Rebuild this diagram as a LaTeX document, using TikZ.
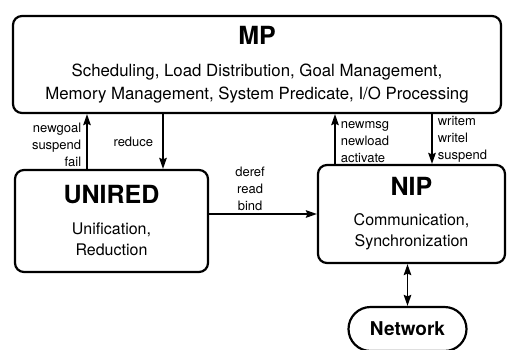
\documentclass[tikz,border=0pt]{standalone}
\usepackage{fontspec}
\setmainfont{TeX Gyre Heros}
\usetikzlibrary{shapes,arrows,arrows.meta,positioning,calc}

\newcommand{\unitname}[1]{{\fontsize{25}{30}\selectfont\bfseries #1}}

\begin{document}
\begin{tikzpicture}[x=1pt, y=-1pt, auto]
    % Define styles
    \tikzstyle{unit} = [rectangle, rounded corners=9pt, line width=2.2pt, draw=black, align=center, font=\fontsize{16}{21}\selectfont]
    \tikzstyle{port} = [rectangle, rounded corners=22pt, line width=2.2pt, draw=black, minimum width=118pt, minimum height=44pt, font=\fontsize{19}{22}\selectfont\bfseries]
    \tikzstyle{arrow} = [line width=1.7pt,->,>={Stealth[length=11pt,width=7.5pt,inset=1.5pt]}]
    \tikzstyle{tag} = [font=\fontsize{13}{17}\selectfont, inner sep=5pt]

    \useasboundingbox (0,0) rectangle (511,349);

    % Nodes
    \node [unit, minimum width=488pt, minimum height=97pt, font=\fontsize{16.8}{23}\selectfont] (mp) at (257,64.5) {\unitname{MP}\\[9pt] Scheduling, Load Distribution, Goal Management,\\ Memory Management, System Predicate, I/O Processing};
    \node [unit, minimum width=193pt, minimum height=102pt] (unired) at (111.5,221) {\unitname{UNIRED}\\[10pt] Unification,\\ Reduction};
    \node [unit, minimum width=187pt, minimum height=98pt] (nip) at (411.5,214) {\unitname{NIP}\\[9pt] Communication,\\ Synchronization};
    \node [port] (net) at (407.5,329) {Network};

    % Arrows
    \draw [arrow] ([xshift=-24.5pt]unired.north) -- ([xshift=-24.5pt]unired.north |- mp.south) node [tag, left, midway, align=right, yshift=-3pt] {newgoal\\suspend\\fail};
    \draw [arrow] ([xshift=51.5pt]unired.north |- mp.south) -- ([xshift=51.5pt]unired.north) node [tag, left, midway, inner sep=9pt] {reduce};
    \draw [arrow] (unired.east |- nip.west) -- (nip.west) node [tag, above, pos=0.38, align=center, inner sep=2pt] {deref\\read\\bind};
    \draw [arrow] ([xshift=-76.5pt]nip.north) -- ([xshift=-76.5pt]nip.north |- mp.south) node [tag, right, midway, align=left, yshift=-3pt] {newmsg\\newload\\activate};
    \draw [arrow] ([xshift=20.5pt]nip.north |- mp.south) -- ([xshift=20.5pt]nip.north) node [tag, right, midway, align=left] {writem\\writel\\suspend};
    \draw [arrow, <->] (net.north |- nip.south) -- (net.north);
\end{tikzpicture}
\end{document}
